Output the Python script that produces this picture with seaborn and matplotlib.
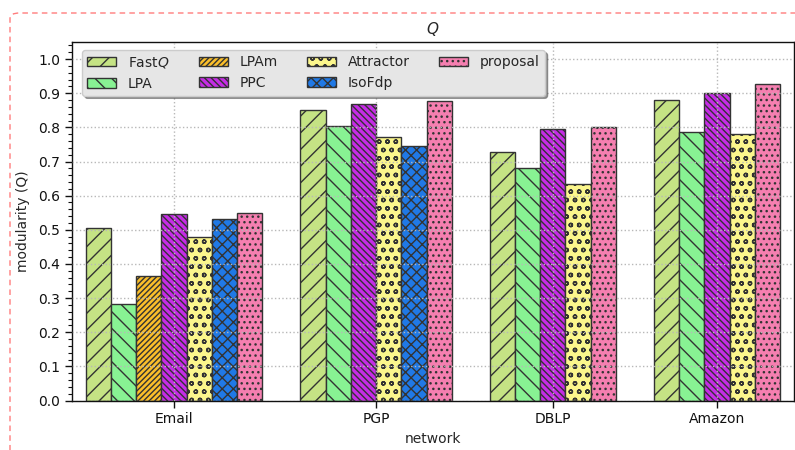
import numpy as np
import seaborn as sns
import matplotlib.pyplot as plt
from matplotlib.patches import Patch, FancyBboxPatch
from matplotlib.ticker import MultipleLocator

# data
networks = ['Email', 'PGP', 'DBLP', 'Amazon']
methods = ['Fast$Q$', 'LPA', 'LPAm', 'PPC', 'Attractor', 'IsoFdp', 'proposal']
email = [0.506, 0.282, 0.365, 0.547, 0.479, 0.531, 0.548]
pgp = [0.851, 0.804, None, 0.869, 0.771, 0.746, 0.876]
dblp = [0.727, 0.682, None, 0.796, 0.634, None, 0.800]
amazon = [0.879, 0.785, None, 0.901, 0.780, None, 0.927]

colors = ['#c5e384', '#88f293', '#fbbf2a', '#c62ce6', '#fbf68c', '#2079e6', '#f57fb0']
hatches = ['//', '\\\\', '/' * 6, '\\' * 5, 'oo', 'xxx', '...']

sns.set_style('ticks')
plt.rcParams['font.family'] = ['DejaVu Sans']
plt.rcParams['hatch.linewidth'] = 1.0
plt.rcParams['hatch.color'] = '#222222'

fig = plt.figure(figsize=(7.95, 4.5), dpi=100)
ax = fig.add_axes([72 / 795, 49.5 / 450, 722 / 795, 358.5 / 450])

# bars of one network sit side by side, missing methods leave no gap
gap = 1.5
start = 0.0
centers = []
for values in [email, pgp, dblp, amazon]:
    present = [(i, v) for i, v in enumerate(values) if v is not None]
    for j, (i, v) in enumerate(present):
        ax.bar(start + j + 0.5, v, width=1.0, color=colors[i], hatch=hatches[i],
               edgecolor='#333333', linewidth=1.0, zorder=1)
    centers.append(start + len(present) / 2)
    start += len(present) + gap

ax.set_xlim(-0.54, 28.05)
ax.set_ylim(0, 1.05)
ax.set_xticks(centers)
ax.set_xticklabels(networks, fontsize=10)
ax.yaxis.set_major_locator(MultipleLocator(0.1))
ax.yaxis.set_minor_locator(MultipleLocator(0.02))
ax.tick_params(axis='y', which='major', length=5, width=1, labelsize=10, colors='#111111')
ax.tick_params(axis='y', which='minor', length=3, width=0.8, colors='#111111')
ax.tick_params(axis='x', length=5, width=1, colors='#111111')
ax.set_axisbelow(False)
ax.grid(True, linestyle=':', color='#b8b8b8', linewidth=1.0)
for s in ax.spines.values():
    s.set_color('#111111')
    s.set_linewidth(1.0)
    s.set_visible(True)

ax.set_title('$Q$', fontsize=11, pad=6)
ax.set_xlabel('network', fontsize=10, labelpad=4)
ax.set_ylabel('modularity (Q)', fontsize=10, labelpad=6)

handles = [Patch(facecolor=c, edgecolor='#333333', hatch=h, label=m)
           for c, h, m in zip(colors, hatches, methods)]
leg = ax.legend(handles=handles, ncol=4, loc='upper left', bbox_to_anchor=(0.0139, 0.978),
                borderaxespad=0, fontsize=10, frameon=True, fancybox=True, shadow=True,
                handlelength=2.1, handleheight=0.7, handletextpad=0.85, columnspacing=2.1,
                borderpad=0.35, labelspacing=0.5)
leg.get_frame().set_facecolor('#e6e6e6')
leg.get_frame().set_edgecolor('#cccccc')
leg.get_frame().set_alpha(1.0)
leg.set_zorder(5)

# dashed rounded border round the figure
border = FancyBboxPatch((10 / 795, -0.2), 1.2, 1.2 - 13 / 450,
                        boxstyle='round,pad=0,rounding_size=0.012',
                        transform=fig.transFigure, fill=False,
                        edgecolor='#ff7d7d', linestyle=(0, (4, 3)), linewidth=1.0,
                        clip_on=False)
fig.patches.append(border)

fig.savefig('out.png', dpi=100)
